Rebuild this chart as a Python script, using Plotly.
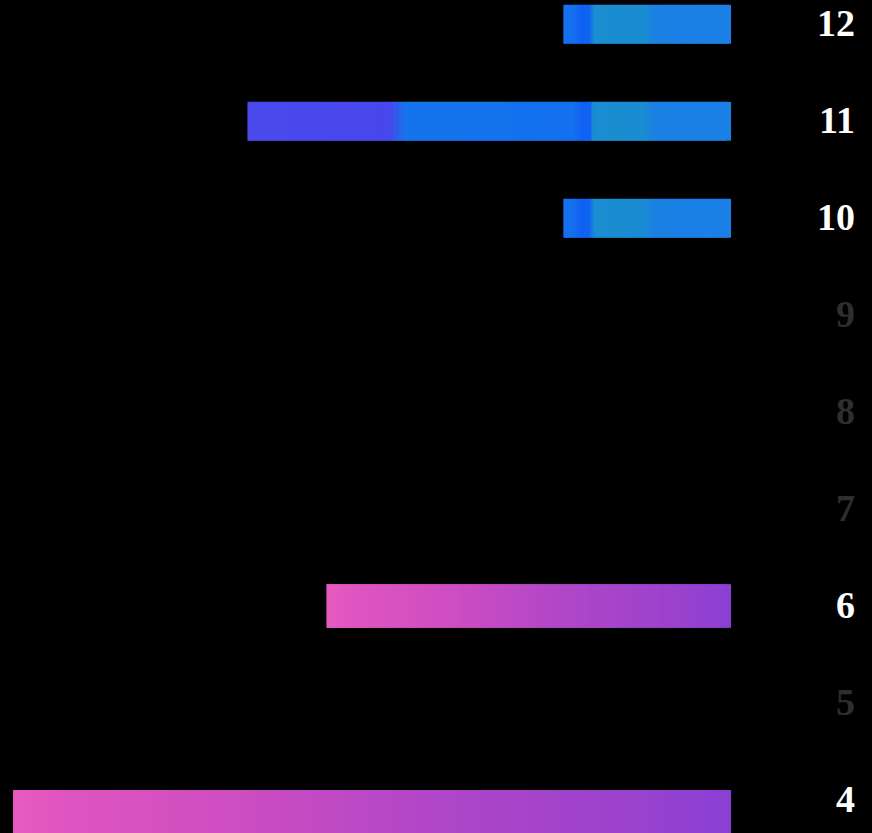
import plotly.graph_objects as go
import numpy as np

# ---- data ----
categories = [12, 11, 10, 9, 8, 7, 6, 5, 4]
values = [7.0, 20.2, 7.0, 0, 0, 0, 16.9, 0, 30.0]
groups = ["blue", "blue", "blue", None, None, None, "pink", None, "pink"]

# ---- styles ----
bar_widths = [0.40, 0.40, 0.40, 0.4, 0.4, 0.4, 0.45, 0.4, 0.443]
bar_offsets = [-0.203, -0.203, -0.203, -0.2, -0.2, -0.2, -0.225, -0.2, -0.34]
label_dy = -0.03

blue_stops = [(0.0, "#1b80e6"), (3.2, "#1b80e4"), (3.6, "#1a8cd2"), (5.7, "#1a8ed0"),
              (5.95, "#1062f2"), (6.3, "#1262f2"), (6.6, "#1470ee"), (13.6, "#1574ec"),
              (14.3, "#4846ec"), (21.0, "#4a4aec")]
pink_stops = [(0.0, "#e85cc0"), (0.06, "#e055c0"), (0.35, "#ca4cc2"), (0.6, "#ae46c8"),
              (0.85, "#9c42cc"), (1.0, "#8a40d4")]


def hex2rgb(h):
    h = h.lstrip("#")
    return np.array([int(h[i:i + 2], 16) for i in (0, 2, 4)], dtype=float)


def interp(stops, t):
    xs = [s[0] for s in stops]
    cs = [hex2rgb(s[1]) for s in stops]
    if t <= xs[0]:
        c = cs[0]
    elif t >= xs[-1]:
        c = cs[-1]
    else:
        for i in range(len(xs) - 1):
            if xs[i] <= t <= xs[i + 1]:
                f = (t - xs[i]) / (xs[i + 1] - xs[i])
                c = cs[i] * (1 - f) + cs[i + 1] * f
                break
    return "rgb(%d,%d,%d)" % tuple(int(round(v)) for v in c)


N = 90
fig = go.Figure()
idx = [i for i, v in enumerate(values) if v > 0]
for k in range(N):
    xs, bases, ys, cols, ws, offs = [], [], [], [], [], []
    for i in idx:
        v = values[i]
        seg = v / N
        start = seg * k
        mid = start + seg / 2
        if groups[i] == "blue":
            col = interp(blue_stops, mid)
        else:
            col = interp(pink_stops, 1 - mid / v)
        xs.append(min(seg * 2.0, v - start))
        bases.append(start)
        ys.append(categories[i])
        cols.append(col)
        ws.append(bar_widths[i])
        offs.append(bar_offsets[i])
    fig.add_trace(go.Bar(x=xs, base=bases, y=ys, orientation="h",
                         marker=dict(color=cols, line=dict(width=0)),
                         width=ws, offset=offs, hoverinfo="skip"))

label_colors = ["#ffffff" if v > 0 else "#2e2e2e" for v in values]
fig.add_trace(go.Scatter(x=[-5.18] * len(categories),
                         y=[c + label_dy for c in categories],
                         text=[str(c) for c in categories], mode="text",
                         textposition="middle left",
                         textfont=dict(family="Liberation Serif", size=38,
                                       color=label_colors, weight="bold"),
                         hoverinfo="skip"))

fig.update_layout(width=872, height=833, margin=dict(l=0, r=0, t=0, b=0),
                  paper_bgcolor="#000000", plot_bgcolor="#000000",
                  showlegend=False, barmode="overlay",
                  xaxis=dict(range=[30.55, -5.89], visible=False, fixedrange=True),
                  yaxis=dict(range=[3.66, 12.247], visible=False, fixedrange=True))
fig.write_html("out.html", config={"displayModeBar": False},
               post_script="document.body.style.margin='0';document.body.style.background='#000';")
